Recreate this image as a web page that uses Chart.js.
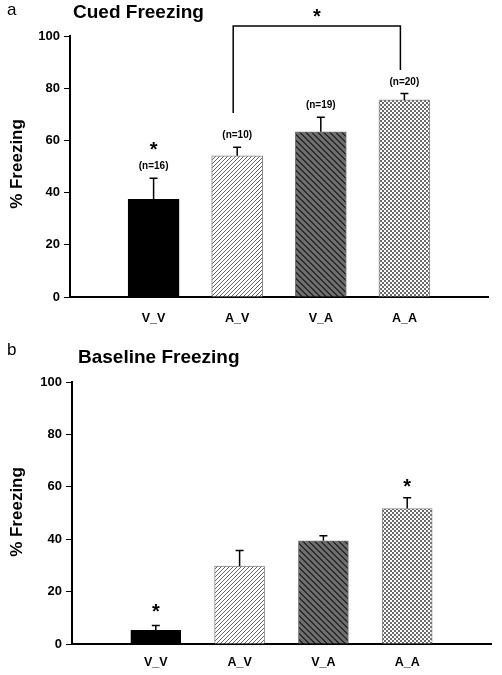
<!DOCTYPE html>
<html>
<head>
<meta charset="utf-8">
<script src="https://cdn.jsdelivr.net/npm/chart.js@4.4.1/dist/chart.umd.min.js"></script>
<style>
  body { margin: 0; background: #fff; }
  #wrap { position: relative; width: 502px; height: 675px; }
  canvas { position: absolute; left: 0; }
</style>
</head>
<body>
<div id="wrap">
  <canvas id="chartA" width="502" height="340" style="top:0"></canvas>
  <canvas id="chartB" width="502" height="335" style="top:340px"></canvas>
</div>
<script>
// data
const groups = ['V_V', 'A_V', 'V_A', 'A_A'];
const cuedMean = [37.4, 54.1, 63.3, 75.5];
const cuedSem = [8.1, 3.3, 5.6, 2.5];
const cuedN = ['(n=16)', '(n=10)', '(n=19)', '(n=20)'];
const cuedStar = [58.6, null, null, null];
const cuedBracket = [70.5, 87, 103.8, 109.4]; // left foot, right foot, top, star
const baseMean = [5.2, 29.7, 39.4, 51.7];
const baseSem = [1.9, 6.0, 1.9, 4.1];
const baseStar = [14.5, null, null, 61.9];

const FONT = "'Liberation Sans', Arial, sans-serif";

function pattern(ctx, size, paint) {
  let c = document.createElement('canvas');
  c.width = size; c.height = size;
  let g = c.getContext('2d');
  paint(g);
  return ctx.createPattern(c, 'repeat');
}

function fills(ctx) {
  let fwd = pattern(ctx, 4, g => {
    g.fillStyle = '#fff'; g.fillRect(0, 0, 4, 4);
    g.fillStyle = '#666';
    for (let i = 0; i < 4; i++) g.fillRect(i, 3 - i, 1, 1);
  });
  let back = pattern(ctx, 6, g => {
    g.fillStyle = '#6e6e6e'; g.fillRect(0, 0, 6, 6);
    g.fillStyle = '#2a2a2a';
    for (let i = 0; i < 6; i++) { g.fillRect(i, i, 1, 1); g.fillRect(i, (i + 1) % 6, 1, 1); }
  });
  let check = pattern(ctx, 4, g => {
    g.fillStyle = '#fff'; g.fillRect(0, 0, 4, 4);
    g.fillStyle = '#6a6a6a';
    g.fillRect(0, 0, 2, 2); g.fillRect(2, 2, 2, 2);
  });
  return ['#000', fwd, back, check];
}

function star(ctx, px, py) {
  ctx.font = 'bold 20px ' + FONT;
  ctx.textAlign = 'center';
  ctx.textBaseline = 'alphabetic';
  ctx.fillText('*', px, py + 11.5);
}

const extras = {
  id: 'extras',
  afterDatasetsDraw(chart, args, o) {
    let ctx = chart.ctx, x = chart.scales.x, y = chart.scales.y;
    ctx.save();
    ctx.strokeStyle = '#000';
    ctx.fillStyle = '#000';
    ctx.lineWidth = 1.5;
    o.mean.forEach((m, i) => {
      let px = x.getPixelForValue(i + 1);
      let top = y.getPixelForValue(m);
      let cap = y.getPixelForValue(m + o.sem[i]);
      ctx.beginPath();
      ctx.moveTo(px, top); ctx.lineTo(px, cap);
      ctx.moveTo(px - 4, cap); ctx.lineTo(px + 4, cap);
      ctx.stroke();
      if (o.n) {
        ctx.font = 'bold 10px ' + FONT;
        ctx.textAlign = 'center';
        ctx.textBaseline = 'middle';
        ctx.fillText(o.n[i], px, cap - 11.5);
      }
      if (o.star[i] != null) star(ctx, px, y.getPixelForValue(o.star[i]));
    });
    if (o.bracket) {
      let b = o.bracket;
      let x1 = x.getPixelForValue(2) - 4, x2 = x.getPixelForValue(4) - 4;
      ctx.beginPath();
      ctx.moveTo(x1, y.getPixelForValue(b[0]));
      ctx.lineTo(x1, y.getPixelForValue(b[2]));
      ctx.lineTo(x2, y.getPixelForValue(b[2]));
      ctx.lineTo(x2, y.getPixelForValue(b[1]));
      ctx.stroke();
      star(ctx, (x1 + x2) / 2, y.getPixelForValue(b[3]));
    }
    ctx.restore();
  },
  afterDraw(chart, args, o) {
    let ctx = chart.ctx;
    ctx.save();
    ctx.fillStyle = '#000';
    ctx.textBaseline = 'alphabetic';
    ctx.textAlign = 'left';
    ctx.font = '17px ' + FONT;
    ctx.fillText(o.letter, 7, o.letterY);
    ctx.font = 'bold 19px ' + FONT;
    ctx.fillText(o.title, o.titleX, o.titleY);
    ctx.translate(17, o.yTitleY);
    ctx.rotate(-Math.PI / 2);
    ctx.textAlign = 'center';
    ctx.textBaseline = 'middle';
    ctx.font = 'bold 17px ' + FONT;
    ctx.fillText('% Freezing', 0, 0);
    ctx.restore();
  }
};

function build(id, mean, sem, nLabels, stars, bracket, box) {
  let canvas = document.getElementById(id);
  let ctx = canvas.getContext('2d');
  let bg = fills(ctx);
  return new Chart(ctx, {
    type: 'bar',
    data: {
      labels: [''].concat(groups, ['']),
      datasets: [{
        data: [null].concat(mean, [null]),
        backgroundColor: ['#fff'].concat(bg, ['#fff']),
        borderColor: ['#000', '#000', '#888', '#777', '#888', '#000'],
        borderWidth: 1,
        borderSkipped: 'bottom',
        barThickness: box.bar
      }]
    },
    options: {
      responsive: false,
      animation: false,
      layout: { padding: { top: box.top, right: box.right, left: 0, bottom: 0 } },
      scales: {
        x: {
          offset: false,
          afterFit: s => { s.height = box.xh; },
          grid: { drawOnChartArea: false, drawTicks: false },
          border: { color: '#000', width: 2 },
          ticks: {
            autoSkip: false, maxRotation: 0, padding: box.xpad,
            color: '#000', font: { family: FONT, size: 12.5, weight: 'bold' }
          }
        },
        y: {
          min: 0, max: 100,
          afterFit: s => { s.width = box.left; },
          grid: { drawOnChartArea: false, tickLength: 6, color: '#000' },
          border: { color: '#000', width: 2 },
          ticks: {
            stepSize: 20, padding: 4, color: '#000',
            font: { family: FONT, size: 13, weight: 'bold' }
          }
        }
      },
      plugins: {
        legend: { display: false },
        tooltip: { enabled: false },
        extras: {
          mean: mean, sem: sem, n: nLabels, star: stars, bracket: bracket,
          letter: box.letter, letterY: box.letterY,
          title: box.title, titleX: box.titleX, titleY: box.titleY,
          yTitleY: box.yTitleY
        }
      }
    },
    plugins: [extras]
  });
}

build('chartA', cuedMean, cuedSem, cuedN, cuedStar, cuedBracket, {
  top: 36, right: 9, left: 70, xh: 43, xpad: 14, bar: 51,
  letter: 'a', letterY: 15, title: 'Cued Freezing', titleX: 73, titleY: 18, yTitleY: 164
});
build('chartB', baseMean, baseSem, null, baseStar, null, {
  top: 42, right: 11, left: 72, xh: 31, xpad: 11, bar: 50,
  letter: 'b', letterY: 15, title: 'Baseline Freezing', titleX: 78, titleY: 23, yTitleY: 172
});
</script>
</body>
</html>
